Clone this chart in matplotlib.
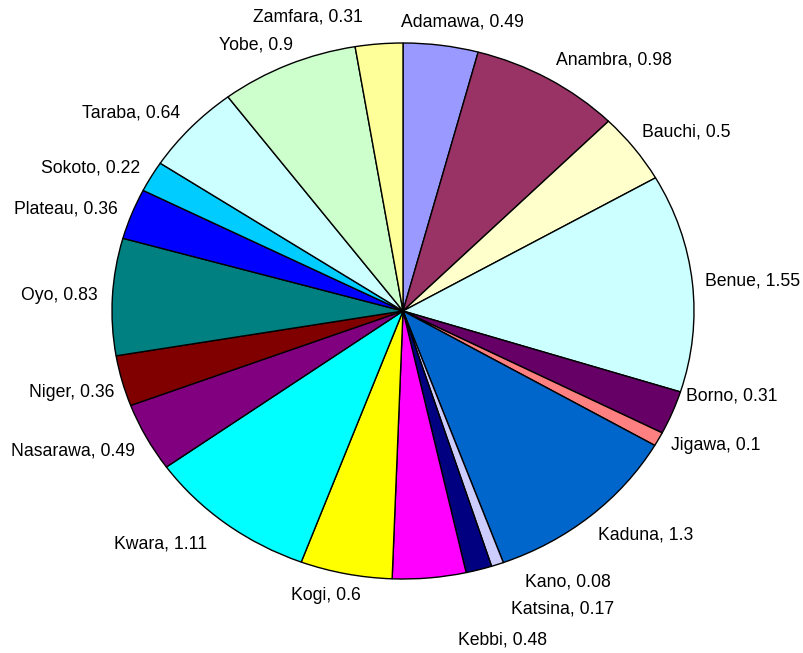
import numpy as np
import matplotlib
matplotlib.use("Agg")
import matplotlib.pyplot as plt

# states in clockwise order from 12 o'clock
states = ['Adamawa', 'Anambra', 'Bauchi', 'Benue', 'Borno', 'Jigawa', 'Kaduna',
          'Kano', 'Katsina', 'Kebbi', 'Kogi', 'Kwara', 'Nasarawa', 'Niger', 'Oyo',
          'Plateau', 'Sokoto', 'Taraba', 'Yobe', 'Zamfara']
values = [0.49, 0.98, 0.5, 1.55, 0.31, 0.1, 1.3, 0.08, 0.17, 0.48, 0.6, 1.11,
          0.49, 0.36, 0.83, 0.36, 0.22, 0.64, 0.9, 0.31]
colors = ['#9999FF', '#993366', '#FFFFCC', '#CCFFFF', '#660066', '#FF8080',
          '#0066CC', '#CCCCFF', '#000080', '#FF00FF', '#FFFF00', '#00FFFF',
          '#800080', '#800000', '#008080', '#0000FF', '#00CCFF', '#CCFFFF',
          '#CCFFCC', '#FFFF99']

# small label nudges (pixels) where the labels were moved to avoid overlap
nudge = {'Zamfara': (-15, 14), 'Adamawa': (-42, 10), 'Borno': (0, 22),
         'Kano': (23, -5), 'Katsina': (28, -26), 'Kebbi': (27, -49),
         'Kogi': (18, -9), 'Niger': (6, -8), 'Benue': (-2, 0),
         'Yobe': (10, 7), 'Sokoto': (1, 2), 'Taraba': (0, 5),
         'Bauchi': (-4, 8), 'Anambra': (0, 7), 'Kaduna': (-2, -9),
         'Nasarawa': (1, -7), 'Kwara': (-10, -10)}

plt.rcParams['font.family'] = ['Liberation Sans', 'DejaVu Sans']

fig = plt.figure(figsize=(8.04, 6.53), dpi=100)
ax = fig.add_axes([112 / 804, 74 / 653, 582 / 804, 536 / 653])

wedges, _ = ax.pie(values, colors=colors, startangle=90, counterclock=False,
                   wedgeprops=dict(edgecolor='black', linewidth=1.0))
ax.set_aspect('auto')
ax.set_xlim(-1, 1)
ax.set_ylim(-1, 1)

total = sum(values)
cum = np.cumsum([0] + values[:-1])
for name, v, c0 in zip(states, values, cum):
    ang = 2 * np.pi * (c0 + v / 2) / total
    sx, sy = np.sin(ang), np.cos(ang)
    r = 1.05
    ha = 'left' if sx >= 0 else 'right'
    dx, dy = nudge.get(name, (0, 0))
    ax.annotate(f'{name}, {v:g}', xy=(r * sx, r * sy), xytext=(dx, dy),
                textcoords='offset pixels', ha=ha, va='center', fontsize=12.7,
                annotation_clip=False)

fig.savefig('out.png', dpi=100, facecolor='white')
